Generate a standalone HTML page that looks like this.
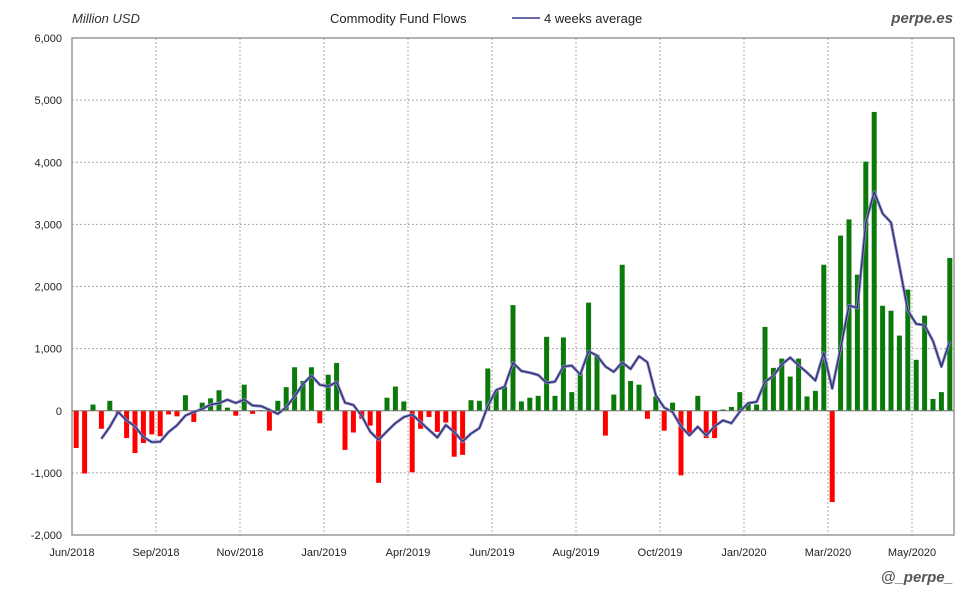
<!DOCTYPE html>
<html><head><meta charset="utf-8"><style>
body{margin:0;background:#fff;font-family:"Liberation Sans",sans-serif}
svg text{font-family:"Liberation Sans",sans-serif}
</style></head><body>
<svg id="chart" width="980" height="600">
<text x="72" y="23" font-size="13" font-style="italic" fill="#333">Million USD</text>
<text x="330" y="23" font-size="13" fill="#222">Commodity Fund Flows</text>
<line x1="512" y1="18" x2="540" y2="18" stroke="#3a3a8c" stroke-width="1.5"/>
<text x="544" y="23" font-size="13" fill="#222">4 weeks average</text>
<text x="953" y="23" font-size="15" font-style="italic" font-weight="bold" fill="#555" text-anchor="end" font-family="Liberation Mono">perpe.es</text>
<text x="953" y="582" font-size="15" font-style="italic" font-weight="bold" fill="#555" text-anchor="end" font-family="Liberation Mono">@_perpe_</text>
<g id="grid"></g><g id="bars"></g><g id="line"></g><g id="axes"></g>
</svg>
<script>
const flows = [-600,-1010,100,-290,160,-50,-440,-680,-520,-380,-410,-60,-90,250,-180,130,200,330,50,-80,420,-50,10,-320,160,380,700,480,700,-200,580,770,
-630,-350,-130,-240,-1160,210,390,150,-990,-290,-100,-340,-190,-740,-710,170,160,680,320,390,1700,150,210,240,1190,240,1180,300,610,1740,900,-400,260,2350,480,420,-130,230,-320,130,-1040,-360,240,-440,-440,20,60,300,110,100,1350,690,840,550,840,230,320,2350,-1470,2820,3080,2190,4010,4810,1690,1610,1210,1950,820,1530,190,300,2460];
const yTicks = [-2000,-1000,0,1000,2000,3000,4000,5000,6000];
const yTickLabels = ["-2,000","-1,000","0","1,000","2,000","3,000","4,000","5,000","6,000"];
const xTickLabels = ["Jun/2018","Sep/2018","Nov/2018","Jan/2019","Apr/2019","Jun/2019","Aug/2019","Oct/2019","Jan/2020","Mar/2020","May/2020"];
const NS="http://www.w3.org/2000/svg";
const L=72,R=954,T=38,B=535,YMIN=-2000,YMAX=6000;
const step=(R-L)/flows.length;
const xs=i=>L+step*(i+0.5);
const ys=v=>B-(v-YMIN)/(YMAX-YMIN)*(B-T);
function mk(tag,attrs,parent){const e=document.createElementNS(NS,tag);for(const k in attrs)e.setAttribute(k,attrs[k]);document.getElementById(parent).appendChild(e);return e;}
yTicks.forEach((t,i)=>{
  const g=mk('line',{x1:L,x2:R,y1:ys(t),y2:ys(t),stroke:'#aaa','stroke-dasharray':'2,2'},'grid');
  
  
  const tx=mk('text',{x:62,y:ys(t)+4,'font-size':11,'text-anchor':'end',fill:'#222'},'axes');
  tx.textContent=yTickLabels[i];
  
  
});
xTickLabels.forEach((lab,k)=>{
  const x=L+step*k*10;
  if(k>0){const g=mk('line',{x1:x,x2:x,y1:T,y2:B,stroke:'#aaa','stroke-dasharray':'2,2'},'grid');
  
  }
  const tx=mk('text',{x:x,y:556,'font-size':11,'text-anchor':'middle',fill:'#222'},'axes');
  tx.textContent=lab;
  
  
});
const fr=mk('rect',{x:L,y:T,width:R-L,height:B-T,fill:'none',stroke:'#999','stroke-width':1.5},'axes');


flows.forEach((v,i)=>{
  const y0=ys(0),y1=ys(v);
  const r=mk('rect',{x:xs(i)-2.5,y:Math.min(y0,y1),width:5,height:Math.max(1,Math.abs(y1-y0)),fill:v>=0?'#0b7a0b':'#f00'},'bars');
  
  
});
const zl=mk('line',{x1:L,x2:R,y1:ys(0),y2:ys(0),stroke:'#777','stroke-width':1},'axes');


let pts=[];
for(let i=3;i<flows.length;i++){const a=(flows[i]+flows[i-1]+flows[i-2]+flows[i-3])/4;pts.push(xs(i).toFixed(1)+','+ys(a).toFixed(1));}
const p1=mk('polyline',{points:pts.join(' '),fill:'none',stroke:'#8888bb','stroke-width':3,'stroke-linejoin':'round'},'line');


const p2=mk('polyline',{points:pts.join(' '),fill:'none',stroke:'#2a2a7a','stroke-width':1.2,'stroke-linejoin':'round'},'line');


</script>
</body></html>
